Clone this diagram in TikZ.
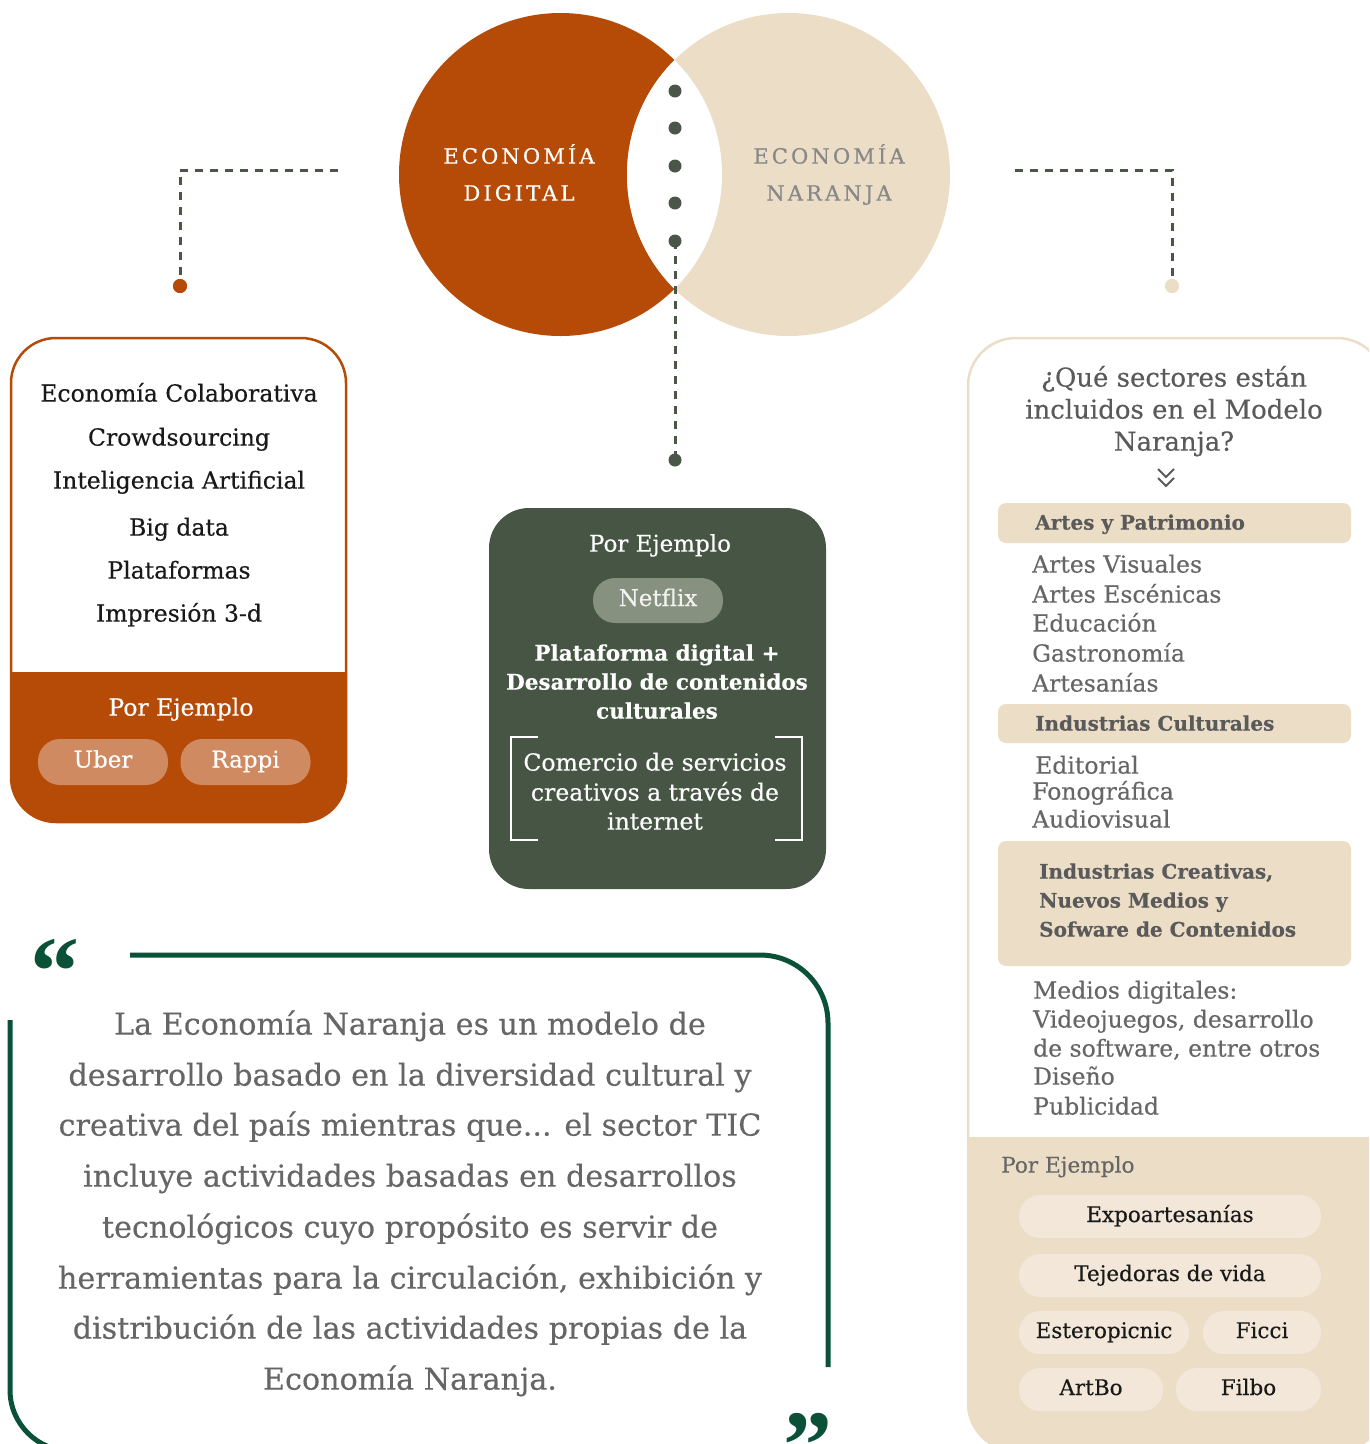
\documentclass[tikz,border=0pt]{standalone}
\usepackage{fontspec}
\setmainfont{DejaVu Serif}[FakeBold=0.35]
\newfontfamily\spacedfont{DejaVu Serif}[LetterSpace=15, FakeBold=0.6]
\newfontfamily\quotefont{Liberation Serif}
\newcommand\setfs[1]{\fontsize{#1}{#1}\selectfont}
\definecolor{orng}{HTML}{B54B07}
\definecolor{beige}{HTML}{EBDDC6}
\definecolor{boxgreen}{HTML}{465544}
\definecolor{dashc}{HTML}{4A5748}
\definecolor{pillor}{HTML}{D08A62}
\definecolor{pillgr}{HTML}{87917F}
\definecolor{qgreen}{HTML}{0B5137}
\definecolor{pillbg}{HTML}{F2E7D8}
\definecolor{txtgray}{HTML}{666666}
\definecolor{titlegray}{HTML}{888888}
\definecolor{bargray}{HTML}{5A5A5A}
\tikzset{
  dashline/.style={draw=dashc, line width=3pt, dash pattern=on 8pt off 7pt},
  dotnode/.style={circle, fill=dashc, inner sep=0pt, minimum size=13pt},
  txt/.style={inner sep=0pt, anchor=mid},
  ltxt/.style={inner sep=0pt, anchor=mid west},
  listL/.style={txt, font=\setfs{23.5}, text=black!90},
  pillO/.style={rectangle, rounded corners=22pt, fill=pillor, minimum width=130pt, minimum height=46pt, inner sep=0pt, text=white, font=\setfs{23}, text height=16pt, text depth=5pt},
  pillB/.style={rectangle, rounded corners=21pt, fill=pillbg, minimum height=43pt, inner sep=0pt, text=black!90, font=\setfs{21.5}, text height=16pt, text depth=5pt},
  barbox/.style={fill=beige, rounded corners=8pt},
  rlist/.style={ltxt, font=\setfs{23.5}, text=txtgray},
  bartxt/.style={ltxt, font=\bfseries\setfs{20}, text=bargray},
  quotetxt/.style={txt, font=\setfs{30.2}, text=txtgray},
}
\begin{document}
\begin{tikzpicture}[x=1pt, y=-1pt]
\useasboundingbox (0,0) rectangle (1369,1444);
\begin{scope}
\clip (0,0) rectangle (1369,1444);

% ---------- Venn circles ----------
\fill[orng] (560.5,174.5) circle (161.5pt);
\fill[beige] (788.5,174.5) circle (161.5pt);
\begin{scope}
  \clip (560.5,174.5) circle (161.5pt);
  \fill[white] (788.5,174.5) circle (161.5pt);
\end{scope}
\node[txt, font=\spacedfont\setfs{21}, text=white] (ed1) at (519,161) {ECONOMÍA};
\node[txt, font=\spacedfont\setfs{21}, text=white] (ed2) at (519,198) {DIGITAL};
\node[txt, font=\spacedfont\setfs{21}, text=titlegray] (en1) at (829,161) {ECONOMÍA};
\node[txt, font=\spacedfont\setfs{21}, text=titlegray] (en2) at (829,198) {NARANJA};

% ---------- middle dots and connector ----------
\node[dotnode] (d1) at (675,91) {};
\node[dotnode] (d2) at (675,128) {};
\node[dotnode] (d3) at (675,166) {};
\node[dotnode] (d4) at (675,203) {};
\node[dotnode] (d5) at (675,241) {};
\node[dotnode] (d6) at (675,460) {};
\draw[dashline] (d5.center) -- (d6.center);

% ---------- left connector ----------
\coordinate (lstart) at (338,170);
\node[dotnode, fill=orng, minimum size=14pt] (ldot) at (180,286) {};
\draw[dashline] (lstart) -| (ldot.center);
\node[dotnode, fill=orng, minimum size=14pt] at (ldot) {};

% ---------- right connector ----------
\coordinate (rstart) at (1015,170);
\node[dotnode, fill=beige, minimum size=14pt] (rdot) at (1172,286) {};
\draw[dashline] (rstart) -| (rdot.center);
\node[dotnode, fill=beige, minimum size=14pt] at (rdot) {};

% ---------- left box ----------
\fill[white, rounded corners=45pt] (11,338) rectangle (346,822);
\begin{scope}
  \clip[rounded corners=45pt] (11,338) rectangle (346,822);
  \fill[orng] (0,672) rectangle (360,830);
\end{scope}
\draw[orng, line width=2.5pt, rounded corners=45pt] (11,338) rectangle (346,822);
\node[listL] (l1) at (179,399) {Economía Colaborativa};
\node[listL] (l2) at (179,443) {Crowdsourcing};
\node[listL] (l3) at (179,486) {Inteligencia Artificial};
\node[listL] (l4) at (179,533) {Big data};
\node[listL] (l5) at (179,576) {Plataformas};
\node[listL] (l6) at (179,619) {Impresión 3-d};
\node[txt, font=\setfs{23.5}, text=white] (lpe) at (181,713) {Por Ejemplo};
\node[pillO] (uber) at (103,762) {Uber};
\node[pillO] (rappi) at (245.5,762) {Rappi};

% ---------- middle box ----------
\fill[boxgreen, rounded corners=40pt] (489,508) rectangle (826,889);
\node[txt, font=\setfs{23}, text=white] (mpe) at (660,549) {Por Ejemplo};
\node[pillO, fill=pillgr, minimum width=130pt, minimum height=45pt, text=white!95!black] (netflix) at (658,600.5) {Netflix};
\node[txt, font=\bfseries\setfs{21.5}, text=white] (mb1) at (657,658) {Plataforma digital +};
\node[txt, font=\bfseries\setfs{21.5}, text=white] (mb2) at (657,687) {Desarrollo de contenidos};
\node[txt, font=\bfseries\setfs{21.5}, text=white] (mb3) at (657,716) {culturales};
\draw[white, line width=2.5pt] (538,737) -- (511,737) -- (511,840) -- (538,840);
\draw[white, line width=2.5pt] (775,737) -- (802,737) -- (802,840) -- (775,840);
\node[txt, font=\setfs{23.5}, text=white] (mc1) at (655,768) {Comercio de servicios};
\node[txt, font=\setfs{23.5}, text=white] (mc2) at (655,798) {creativos a través de};
\node[txt, font=\setfs{23.5}, text=white] (mc3) at (655,827) {internet};

% ---------- right box ----------
\fill[white, rounded corners=48pt] (968,338) rectangle (1385,1451);
\begin{scope}
  \clip[rounded corners=48pt] (968,338) rectangle (1385,1451);
  \fill[beige] (950,1137) rectangle (1400,1460);
\end{scope}
\draw[beige, line width=2.5pt, rounded corners=48pt] (968,338) rectangle (1385,1451);
\node[txt, font=\setfs{26}, text=bargray] (q1) at (1174,384) {¿Qué sectores están};
\node[txt, font=\setfs{26}, text=bargray] (q2) at (1174,416) {incluidos en el Modelo};
\node[txt, font=\setfs{26}, text=bargray] (q3) at (1174,448) {Naranja?};
\draw[bargray, line width=2pt] (1158,469) -- (1166,477) -- (1174,469);
\draw[bargray, line width=2pt] (1158,478) -- (1166,486) -- (1174,478);

\fill[barbox] (998,503) rectangle (1351,543);
\node[bartxt] (b1) at (1035,527) {Artes y Patrimonio};
\node[rlist] (a1) at (1032,570) {Artes Visuales};
\node[rlist] (a2) at (1032,600) {Artes Escénicas};
\node[rlist] (a3) at (1032,629) {Educación};
\node[rlist] (a4) at (1032,659) {Gastronomía};
\node[rlist] (a5) at (1032,689) {Artesanías};

\fill[barbox] (998,704) rectangle (1351,743);
\node[bartxt] (b2) at (1035,728) {Industrias Culturales};
\node[rlist] (c1) at (1035,771) {Editorial};
\node[rlist] (c2) at (1032,797) {Fonográfica};
\node[rlist] (c3) at (1032,825) {Audiovisual};

\fill[barbox] (998,841) rectangle (1351,966);
\node[bartxt] (b3a) at (1039,876) {Industrias Creativas,};
\node[bartxt] (b3b) at (1039,905) {Nuevos Medios y};
\node[bartxt] (b3c) at (1039,934) {Sofware de Contenidos};
\node[rlist] (m1) at (1033,996) {Medios digitales:};
\node[rlist] (m2) at (1033,1025) {Videojuegos, desarrollo};
\node[rlist] (m3) at (1033,1054) {de software, entre otros};
\node[rlist] (m4) at (1033,1082) {Diseño};
\node[rlist] (m5) at (1033,1112) {Publicidad};

\node[ltxt, font=\setfs{21.6}, text=txtgray] (rpe) at (1001,1170) {Por Ejemplo};
\node[pillB, minimum width=302pt] (p1) at (1170,1216.5) {Expoartesanías};
\node[pillB, minimum width=302pt] (p2) at (1170,1275.5) {Tejedoras de vida};
\node[pillB, minimum width=170pt] (p3) at (1104,1332.5) {Esteropicnic};
\node[pillB, minimum width=118pt] (p4) at (1262,1332.5) {Ficci};
\node[pillB, minimum width=144pt] (p5) at (1091,1389.5) {ArtBo};
\node[pillB, minimum width=145pt] (p6) at (1248.5,1389.5) {Filbo};

% ---------- quote ----------
\draw[qgreen, line width=5pt, rounded corners=68pt] (130,955) -- (828,955) -- (828,1367);
\draw[qgreen, line width=5pt, rounded corners=61pt] (10,1020) -- (10,1451) -- (200,1451);
\node[inner sep=0pt, font=\quotefont\bfseries\setfs{98}, text=qgreen] (oq) at (55,972) {“};
\node[inner sep=0pt, font=\quotefont\bfseries\setfs{98}, text=qgreen] (cq) at (808,1446) {”};
\node[quotetxt] (t1) at (410,1032) {La Economía Naranja es un modelo de};
\node[quotetxt] (t2) at (410,1083) {desarrollo basado en la diversidad cultural y};
\node[quotetxt] (t3) at (410,1133) {creativa del país mientras que... el sector TIC};
\node[quotetxt] (t4) at (410,1184) {incluye actividades basadas en desarrollos};
\node[quotetxt] (t5) at (410,1235) {tecnológicos cuyo propósito es servir de};
\node[quotetxt] (t6) at (410,1286) {herramientas para la circulación, exhibición y};
\node[quotetxt] (t7) at (410,1336) {distribución de las actividades propias de la};
\node[quotetxt] (t8) at (410,1387) {Economía Naranja.};
\end{scope}
\end{tikzpicture}
\end{document}
